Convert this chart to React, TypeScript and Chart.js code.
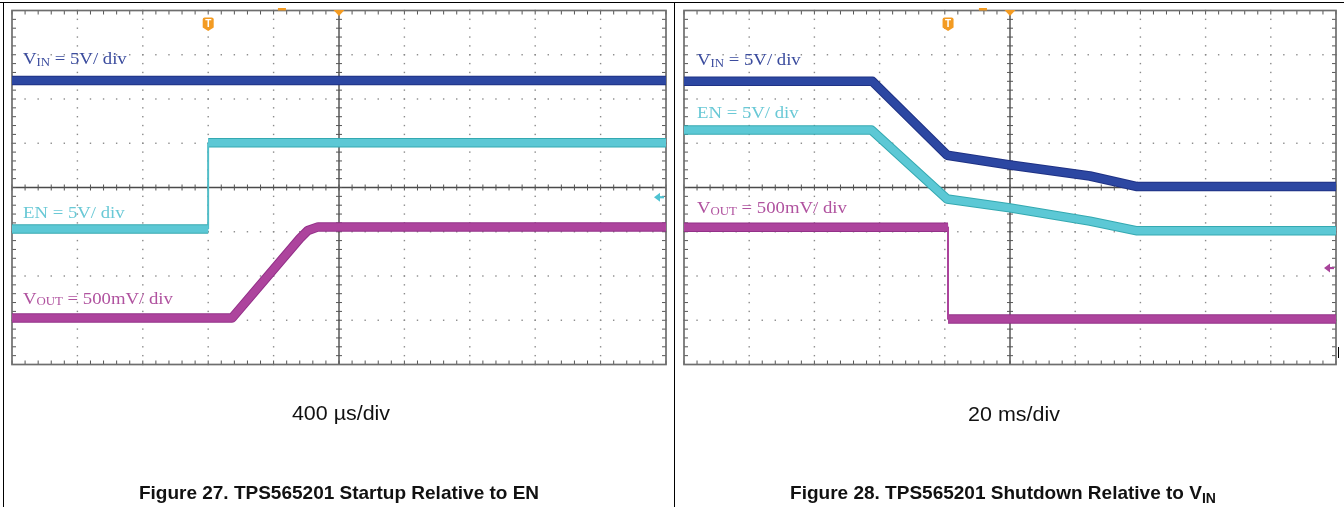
import React, { useEffect, useRef } from "react";
import { Chart, registerables } from "chart.js";

Chart.register(...registerables);

// ---------------- DATA (values in screen divisions, 8 div high, centre line = 0) ----------------
// Figure 27 - startup relative to EN, time in µs (400 µs/div, 10 div)
const startupVinTime = [0, 4000];
const startupVin = [2.42, 2.42];
const startupEnTime = [0, 1200, 1200, 4000];
const startupEn = [-0.94, -0.94, 1.01, 1.01];
const startupVoutTime = [0, 1346, 1761, 1810, 1872, 4000];
const startupVout = [-2.95, -2.95, -1.15, -0.97, -0.89, -0.89];

// Figure 28 - shutdown relative to VIN, time in ms (20 ms/div, 10 div)
const shutdownVinTime = [0, 57.8, 80.7, 100, 124.5, 139, 200];
const shutdownVin = [2.4, 2.4, 0.73, 0.51, 0.26, 0.02, 0.02];
const shutdownEnTime = [0, 57.5, 80.7, 100, 124.5, 139, 200];
const shutdownEn = [1.3, 1.3, -0.26, -0.46, -0.76, -0.98, -0.98];
const shutdownVoutTime = [0, 81, 81, 200];
const shutdownVout = [-0.9, -0.9, -2.97, -2.97];

// channel names: [main, subscript]
const channelNames: [string, string][] = [
  ["V", "IN"],
  ["EN", ""],
  ["V", "OUT"],
];
const channelScales = [" = 5V/ div", " = 5V/ div", " = 500mV/ div"];
const timeBases = ["400 µs/div", "20 ms/div"];
const figureTitles = ["Figure 27. TPS565201 Startup Relative to EN", "Figure 28. TPS565201 Shutdown Relative to V"];
const figureTitleSubs = ["", "IN"];

// ---------------- STYLE ----------------
const ORANGE = "#f39b22";
const traceCore = ["#2c47a2", "#5cc8d5", "#ad449d"];
const traceEdge = ["#1f3285", "#34a9b1", "#933088"];
const labelColor = ["#3b4c9e", "#6ac9d6", "#b0529f"];

type Panel = {
  xMax: number;
  series: { t: number[]; v: number[] }[];
  trigger: number;
  topMark: number;
  labelY: number[];
  labelDx: number;
  arrowY: number;
  arrowColor: string;
  padding: { left: number; right: number; top: number; bottom: number };
};

const scopeGrid = {
  id: "scopeGrid",
  beforeDatasetsDraw(chart: any) {
    const { ctx, chartArea: a, scales } = chart;
    const x = scales.x;
    const y = scales.y;
    const xMin = x.min;
    const xStep = (x.max - x.min) / 10;
    const line = (x1: number, y1: number, x2: number, y2: number) => {
      ctx.beginPath();
      ctx.moveTo(x1, y1);
      ctx.lineTo(x2, y2);
      ctx.stroke();
    };
    ctx.save();
    // dotted grid
    ctx.fillStyle = "#8a8a8a";
    for (let i = 1; i < 10; i++) {
      if (i === 5) continue;
      const px = x.getPixelForValue(xMin + i * xStep);
      for (let j = 0; j <= 40; j++) {
        const py = y.getPixelForValue(-4 + j * 0.2);
        ctx.fillRect(px - 0.7, py - 0.7, 1.4, 1.4);
      }
    }
    for (let k = 1; k < 8; k++) {
      if (k === 4) continue;
      const py = y.getPixelForValue(-4 + k);
      for (let j = 0; j <= 50; j++) {
        const px = x.getPixelForValue(xMin + (j * xStep) / 5);
        ctx.fillRect(px - 0.7, py - 0.7, 1.4, 1.4);
      }
    }
    // centre lines
    const cx = x.getPixelForValue(xMin + 5 * xStep);
    const cy = y.getPixelForValue(0);
    ctx.strokeStyle = "#4a4a4a";
    ctx.lineWidth = 1.4;
    line(cx, a.top, cx, a.bottom);
    line(a.left, cy, a.right, cy);
    ctx.lineWidth = 1;
    ctx.strokeStyle = "#555";
    for (let j = 0; j <= 50; j++) {
      const px = x.getPixelForValue(xMin + (j * xStep) / 5);
      line(px, cy - 3, px, cy + 3);
      line(px, a.top, px, a.top + 4);
      line(px, a.bottom - 4, px, a.bottom);
    }
    for (let j = 0; j <= 40; j++) {
      const py = y.getPixelForValue(-4 + j * 0.2);
      line(cx - 3, py, cx + 3, py);
      line(a.left, py, a.left + 4, py);
      line(a.right - 4, py, a.right, py);
    }
    // border
    ctx.strokeStyle = "#6e6e6e";
    ctx.lineWidth = 1.7;
    ctx.strokeRect(a.left, a.top, a.right - a.left, a.bottom - a.top);
    ctx.restore();
  },
};

function drawLabel(ctx: any, px: number, py: number, idx: number) {
  const [main, sub] = channelNames[idx];
  ctx.save();
  ctx.translate(px, py);
  ctx.scale(1.07, 1);
  ctx.fillStyle = labelColor[idx];
  ctx.textBaseline = "alphabetic";
  ctx.textAlign = "left";
  ctx.font = '17.5px "Liberation Serif", "Times New Roman", serif';
  let cx = 0;
  ctx.fillText(main, cx, 0);
  cx += ctx.measureText(main).width;
  if (sub) {
    ctx.font = '12px "Liberation Serif", "Times New Roman", serif';
    ctx.fillText(sub, cx, 1.6);
    cx += ctx.measureText(sub).width;
    ctx.font = '17.5px "Liberation Serif", "Times New Roman", serif';
  }
  ctx.fillText(channelScales[idx], cx, 0);
  ctx.restore();
}

function makeMarks(p: Panel) {
  return {
    id: "scopeMarks",
    afterDatasetsDraw(chart: any) {
      const { ctx, chartArea: a, scales } = chart;
      const x = scales.x;
      const y = scales.y;
      ctx.save();
      ctx.fillStyle = ORANGE;
      // small marker above top edge
      const mx = x.getPixelForValue(p.topMark);
      ctx.fillRect(mx - 4, a.top - 2.5, 8, 2.5);
      // centre (delay) triangle
      const cx = x.getPixelForValue(p.xMax / 2);
      ctx.beginPath();
      ctx.moveTo(cx - 5.5, a.top - 0.5);
      ctx.lineTo(cx + 5.5, a.top - 0.5);
      ctx.lineTo(cx, a.top + 5.5);
      ctx.closePath();
      ctx.fill();
      // trigger badge
      const tx = x.getPixelForValue(p.trigger);
      const t0 = a.top + 7;
      ctx.beginPath();
      ctx.moveTo(tx - 5.5, t0 + 2);
      ctx.quadraticCurveTo(tx - 5.5, t0, tx - 3.5, t0);
      ctx.lineTo(tx + 3.5, t0);
      ctx.quadraticCurveTo(tx + 5.5, t0, tx + 5.5, t0 + 2);
      ctx.lineTo(tx + 5.5, t0 + 10);
      ctx.lineTo(tx, t0 + 13.5);
      ctx.lineTo(tx - 5.5, t0 + 10);
      ctx.closePath();
      ctx.fill();
      ctx.fillStyle = "#ffffff";
      ctx.font = 'bold 10px "Liberation Sans", Arial, sans-serif';
      ctx.textAlign = "center";
      ctx.textBaseline = "middle";
      ctx.fillText("T", tx, t0 + 6.5);
      // channel arrow at right edge
      const ay = y.getPixelForValue(p.arrowY);
      ctx.fillStyle = p.arrowColor;
      ctx.strokeStyle = p.arrowColor;
      ctx.beginPath();
      ctx.moveTo(a.right - 12, ay);
      ctx.lineTo(a.right - 6, ay - 4.5);
      ctx.lineTo(a.right - 6, ay + 4.5);
      ctx.closePath();
      ctx.fill();
      ctx.lineWidth = 2.2;
      ctx.beginPath();
      ctx.moveTo(a.right - 7, ay);
      ctx.lineTo(a.right - 2, ay);
      ctx.stroke();
      // channel labels
      for (let i = 0; i < 3; i++) {
        drawLabel(ctx, a.left + p.labelDx, y.getPixelForValue(p.labelY[i]), i);
      }
      ctx.restore();
    },
  };
}

function buildConfig(p: Panel): any {
  const datasets: any[] = [];
  p.series.forEach((s, i) => {
    const data = s.t.map((t, k) => ({ x: t, y: s.v[k] }));
    const common = {
      data,
      pointRadius: 0,
      tension: 0,
      fill: false,
      borderCapStyle: "butt",
      borderJoinStyle: "round",
    };
    datasets.push({
      ...common,
      label: channelNames[i].join(""),
      borderColor: traceCore[i],
      borderWidth: 7.5,
      order: 0,
      segment: { borderWidth: (c: any) => (c.p0.parsed.x === c.p1.parsed.x ? 1 : 7.5) },
    });
    datasets.push({
      ...common,
      label: channelNames[i].join("") + " edge",
      borderColor: traceEdge[i],
      borderWidth: 9.5,
      order: 1,
      segment: { borderWidth: (c: any) => (c.p0.parsed.x === c.p1.parsed.x ? 1.8 : 9.5) },
    });
  });
  return {
    type: "line",
    data: { datasets },
    options: {
      animation: false,
      responsive: false,
      maintainAspectRatio: false,
      events: [],
      layout: { padding: p.padding },
      scales: {
        x: { type: "linear", min: 0, max: p.xMax, display: false },
        y: { type: "linear", min: -4, max: 4, display: false },
      },
      plugins: { legend: { display: false }, tooltip: { enabled: false }, title: { display: false } },
    },
    plugins: [scopeGrid, makeMarks(p)],
  };
}

const startupPanel: Panel = {
  xMax: 4000,
  series: [
    { t: startupVinTime, v: startupVin },
    { t: startupEnTime, v: startupEn },
    { t: startupVoutTime, v: startupVout },
  ],
  trigger: 1200,
  topMark: 1651,
  labelY: [2.79, -0.68, -2.63],
  labelDx: 11,
  arrowY: -0.22,
  arrowColor: "#4fc3d2",
  padding: { left: 12, right: 8, top: 10.5, bottom: 142.5 },
};

const shutdownPanel: Panel = {
  xMax: 200,
  series: [
    { t: shutdownVinTime, v: shutdownVin },
    { t: shutdownEnTime, v: shutdownEn },
    { t: shutdownVoutTime, v: shutdownVout },
  ],
  trigger: 81,
  topMark: 91.7,
  labelY: [2.77, 1.57, -0.58],
  labelDx: 13,
  arrowY: -1.82,
  arrowColor: "#a8449a",
  padding: { left: 10, right: 8, top: 10.5, bottom: 142.5 },
};

function ScopeChart({ panel, left, width }: { panel: Panel; left: number; width: number }) {
  const ref = useRef<HTMLCanvasElement>(null);
  useEffect(() => {
    const chart = new Chart(ref.current as HTMLCanvasElement, buildConfig(panel));
    return () => chart.destroy();
  }, [panel]);
  return (
    <canvas
      ref={ref}
      width={width}
      height={507}
      style={{ position: "absolute", left, top: 0, width, height: 507 }}
    />
  );
}

function Caption({ cx, baseline, size, bold, stretch, children }: any) {
  const w = 600;
  return (
    <div
      style={{
        position: "absolute",
        left: cx - w / 2,
        top: baseline - 0.8465 * size,
        width: w,
        textAlign: "center",
        whiteSpace: "nowrap",
        fontFamily: '"Liberation Sans", Arial, sans-serif',
        fontWeight: bold ? "bold" : "normal",
        fontSize: size,
        lineHeight: `${size}px`,
        color: "#111",
        transform: stretch ? `scaleX(${stretch})` : undefined,
      }}
    >
      {children}
    </div>
  );
}

export default function App() {
  const rule = (style: React.CSSProperties) => (
    <div style={{ position: "absolute", background: "#000", ...style }} />
  );
  return (
    <div
      style={{
        position: "fixed",
        left: 0,
        top: 0,
        width: 1344,
        height: 507,
        background: "#fff",
        overflow: "hidden",
      }}
    >
      <ScopeChart panel={startupPanel} left={0} width={674} />
      <ScopeChart panel={shutdownPanel} left={674} width={670} />
      <Caption cx={341} baseline={421} size={19.5} stretch={1.1}>
        {timeBases[0]}
      </Caption>
      <Caption cx={1014} baseline={422} size={19.5} stretch={1.1}>
        {timeBases[1]}
      </Caption>
      <Caption cx={339} baseline={499} size={19} bold>
        {figureTitles[0]}
        {figureTitleSubs[0]}
      </Caption>
      <Caption cx={1003} baseline={499} size={19} bold>
        {figureTitles[1]}
        <span style={{ fontSize: 14, position: "relative", top: 4 }}>{figureTitleSubs[1]}</span>
      </Caption>
      {rule({ left: 0, top: 1.5, width: 1344, height: 1.5 })}
      {rule({ left: 2.5, top: 1.5, width: 1.5, height: 506 })}
      {rule({ left: 673.5, top: 1.5, width: 1.5, height: 506 })}
      {rule({ left: 1338, top: 347, width: 1, height: 11 })}
    </div>
  );
}
